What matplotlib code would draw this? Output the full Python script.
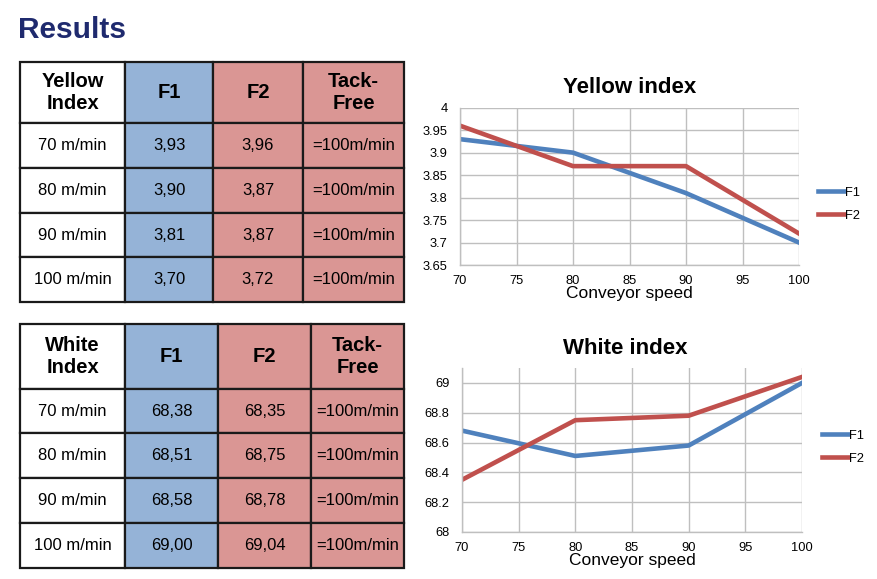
import matplotlib
matplotlib.use("Agg")
import matplotlib.pyplot as plt
from matplotlib.patches import Rectangle

plt.rcParams['font.family'] = ['Liberation Sans', 'DejaVu Sans']

# data
speeds = [70, 80, 90, 100]
speed_labels = ['70 m/min', '80 m/min', '90 m/min', '100 m/min']
tack_free = ['=100m/min'] * 4

yellow_f1 = [3.93, 3.90, 3.81, 3.70]
yellow_f2 = [3.96, 3.87, 3.87, 3.72]
yellow_f1_txt = ['3,93', '3,90', '3,81', '3,70']
yellow_f2_txt = ['3,96', '3,87', '3,87', '3,72']

# as drawn in the chart
white_f1 = [68.68, 68.51, 68.58, 69.00]
white_f2 = [68.35, 68.75, 68.78, 69.04]
white_f1_txt = ['68,38', '68,51', '68,58', '69,00']
white_f2_txt = ['68,35', '68,75', '68,78', '69,04']

BLUE_CELL = '#95b3d7'
RED_CELL = '#da9694'
BLUE = '#4f81bd'
RED = '#c0504d'
GRID = '#bfbfbf'

W, H = 877, 579
fig = plt.figure(figsize=(W / 100, H / 100), dpi=100)

# page overlay in pixel coordinates
page = fig.add_axes([0, 0, 1, 1])
page.set_xlim(0, W)
page.set_ylim(H, 0)
page.axis('off')

page.text(18, 30, 'Results', fontsize=21.5, fontweight='bold', color='#1f2a6e',
          va='center', ha='left')


def draw_table(cols, rows, header, body):
    fills = ['white', BLUE_CELL, RED_CELL, RED_CELL]
    for r in range(len(rows) - 1):
        for c in range(len(cols) - 1):
            x0, x1 = cols[c], cols[c + 1]
            y0, y1 = rows[r], rows[r + 1]
            page.add_patch(Rectangle((x0, y0), x1 - x0, y1 - y0, facecolor=fills[c],
                                     edgecolor='#1a1a1a', linewidth=1.6))
            cx, cy = (x0 + x1) / 2, (y0 + y1) / 2
            if r == 0:
                page.text(cx, cy, header[c], ha='center', va='center', fontsize=14.5,
                          fontweight='bold', linespacing=1.2)
            else:
                page.text(cx, cy, body[c][r - 1], ha='center', va='center', fontsize=12)


draw_table([20, 125, 213, 303, 404], [62, 123, 168, 213, 257, 302],
           ['Yellow\nIndex', 'F1', 'F2', 'Tack-\nFree'],
           [speed_labels, yellow_f1_txt, yellow_f2_txt, tack_free])
draw_table([20, 125, 218, 311, 404], [324, 389, 433, 478, 523, 568],
           ['White\nIndex', 'F1', 'F2', 'Tack-\nFree'],
           [speed_labels, white_f1_txt, white_f2_txt, tack_free])


def style_chart(ax, title, title_x, title_y, legend_x, legend_y):
    ax.set_xlim(70, 100)
    ax.set_xticks(range(70, 101, 5))
    ax.grid(True, color=GRID, linewidth=1)
    ax.set_axisbelow(True)
    for s in ['top', 'right']:
        ax.spines[s].set_visible(False)
    for s in ['left', 'bottom']:
        ax.spines[s].set_color(GRID)
        ax.spines[s].set_linewidth(1)
    ax.tick_params(length=0, labelsize=9.3)
    ax.tick_params(axis='y', pad=9)
    ax.tick_params(axis='x', pad=7)
    ax.set_xlabel('Conveyor speed', fontsize=12.5, labelpad=-0.5)
    fig.text(title_x / W, 1 - title_y / H, title, fontsize=16, fontweight='bold',
             ha='center', va='center')
    ax.legend(loc='center left', bbox_to_anchor=(legend_x / W, 1 - legend_y / H),
              bbox_transform=fig.transFigure, frameon=False, fontsize=9.3,
              handlelength=2.0, handletextpad=0.1, labelspacing=0.85, borderpad=0,
              borderaxespad=0)


ax1 = fig.add_axes([460 / W, 1 - 265 / H, 339 / W, 157.3 / H])
ax1.plot(speeds, yellow_f1, color=BLUE, linewidth=3.3, label='F1')
ax1.plot(speeds, yellow_f2, color=RED, linewidth=3.3, label='F2')
ax1.set_ylim(3.65, 4.0)
ax1.set_yticks([3.65, 3.7, 3.75, 3.8, 3.85, 3.9, 3.95, 4.0])
ax1.set_yticklabels(['3.65', '3.7', '3.75', '3.8', '3.85', '3.9', '3.95', '4'])
style_chart(ax1, 'Yellow index', 630, 88, 818, 204)

ax2 = fig.add_axes([462 / W, 1 - 532 / H, 340 / W, 164 / H])
ax2.plot(speeds, white_f1, color=BLUE, linewidth=3.3, label='F1')
ax2.plot(speeds, white_f2, color=RED, linewidth=3.3, label='F2')
ax2.set_ylim(68, 69.1)
ax2.set_yticks([68, 68.2, 68.4, 68.6, 68.8, 69])
ax2.set_yticklabels(['68', '68.2', '68.4', '68.6', '68.8', '69'])
style_chart(ax2, 'White index', 625, 348, 822, 447)

fig.savefig('out.png', dpi=100)
